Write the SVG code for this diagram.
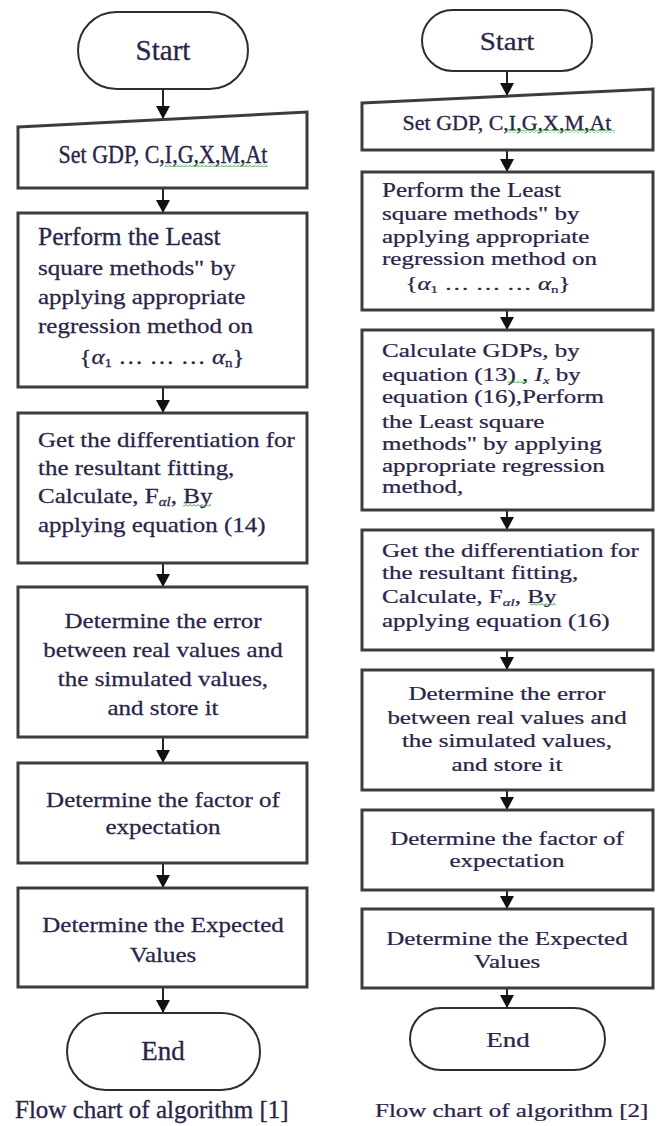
<svg xmlns="http://www.w3.org/2000/svg" width="660" height="1126" viewBox="0 0 660 1126">
<defs>
<style>
.box{fill:#fff;stroke:#3c3c3c;stroke-width:3}
.term{fill:#fff;stroke:#2e2e2e;stroke-width:2}
.t{font-family:"Liberation Serif","Times New Roman",serif;font-size:25px;fill:#2a2448;stroke:#2a2448;stroke-width:0.3}
.c{text-anchor:middle}
.big{font-size:29px}
.sub{font-size:15px}
.it{font-style:italic}
.conn line{stroke:#222;stroke-width:2;marker-end:url(#ah)}
.sq{fill:url(#sqp)}
</style>
<marker id="ah" markerUnits="userSpaceOnUse" markerWidth="13" markerHeight="14" refX="13" refY="7" orient="auto">
<path d="M0,0 L13,7 L0,14 z" fill="#111"/>
</marker>
<pattern id="sqp" patternUnits="userSpaceOnUse" width="4" height="3">
<path d="M0,2.5 L2,0.5 L4,2.5" fill="none" stroke="#2f9a2f" stroke-width="1"/>
</pattern>
</defs>
<rect width="660" height="1126" fill="#fff"/>

<g class="conn">
<line x1="163" y1="89" x2="163" y2="119"/>
<line x1="163" y1="188" x2="163" y2="213"/>
<line x1="163" y1="387" x2="163" y2="413"/>
<line x1="163" y1="563" x2="163" y2="587"/>
<line x1="163" y1="737" x2="163" y2="763"/>
<line x1="163" y1="863" x2="163" y2="888"/>
<line x1="163" y1="987" x2="163" y2="1013"/>
<line x1="507" y1="71" x2="507" y2="96"/>
<line x1="507" y1="150" x2="507" y2="172"/>
<line x1="507" y1="310" x2="507" y2="330"/>
<line x1="507" y1="510" x2="507" y2="530"/>
<line x1="507" y1="650" x2="507" y2="670"/>
<line x1="507" y1="790" x2="507" y2="810"/>
<line x1="507" y1="890" x2="507" y2="909"/>
<line x1="507" y1="988" x2="507" y2="1008"/>
</g>

<!-- Left column -->
<g id="L-start">
<rect class="term" x="78" y="12" width="170" height="77" rx="38.5"/>
<text class="t c big" x="163" y="60">Start</text>
</g>
<g id="L-input">
<polygon class="box" points="18,127 307,112 307,188 18,188"/>
<text class="t c" style="font-size:22px" transform="translate(163 163) scale(1 1.1)">Set GDP, C,I,G,X,M,At</text>
<rect class="sq" x="165" y="164" width="103" height="3"/>
</g>
<g id="L-lsq">
<rect class="box" x="18" y="213" width="289" height="174"/>
<text class="t" style="font-size:25.5px" x="38" y="245">Perform the Least</text>
<text class="t" transform="translate(38 275) scale(1 .85)">square methods" by</text>
<text class="t" transform="translate(38 304) scale(1 .85)">applying appropriate</text>
<text class="t" transform="translate(38 333) scale(1 .85)">regression method on</text>
<text class="t c" transform="translate(162 364) scale(1 .85)">{<tspan class="it">α</tspan><tspan class="sub" dy="4">1</tspan><tspan dy="-4">  … … … </tspan><tspan class="it">α</tspan><tspan class="sub" dy="4">n</tspan><tspan dy="-4">}</tspan></text>
</g>
<g id="L-diff">
<rect class="box" x="18" y="413" width="289" height="150"/>
<text class="t" transform="translate(38 447) scale(1 .85)">Get the differentiation for</text>
<text class="t" transform="translate(38 475) scale(1 .85)">the resultant fitting,</text>
<text class="t" transform="translate(38 503) scale(1 .85)">Calculate, F<tspan class="sub it" dy="4">αl</tspan><tspan dy="-4">, By</tspan></text>
<text class="t" transform="translate(38 532) scale(1 .85)">applying equation (14)</text>
<rect class="sq" x="183" y="504" width="28" height="3"/>
</g>
<g id="L-err">
<rect class="box" x="18" y="587" width="289" height="150"/>
<text class="t c" transform="translate(163 628) scale(1 .85)">Determine the error</text>
<text class="t c" transform="translate(163 657) scale(1 .85)">between real values and</text>
<text class="t c" transform="translate(163 686) scale(1 .85)">the simulated values,</text>
<text class="t c" transform="translate(163 715) scale(1 .85)">and store it</text>
</g>
<g id="L-factor">
<rect class="box" x="18" y="763" width="289" height="100"/>
<text class="t c" transform="translate(163 807) scale(1 .85)">Determine the factor of</text>
<text class="t c" transform="translate(163 834) scale(1 .85)">expectation</text>
</g>
<g id="L-expected">
<rect class="box" x="18" y="888" width="289" height="99"/>
<text class="t c" transform="translate(163 932) scale(1 .85)">Determine the Expected</text>
<text class="t c" transform="translate(163 962) scale(1 .85)">Values</text>
</g>
<g id="L-end">
<rect class="term" x="67" y="1013" width="193" height="77" rx="38.5"/>
<text class="t c" style="font-size:27px" x="163" y="1060">End</text>
</g>
<text id="L-caption" class="t" style="font-size:25px" x="15" y="1118">Flow chart of algorithm [1]</text>

<!-- Right column -->
<g id="R-start">
<rect class="term" x="422" y="10" width="170" height="61" rx="30.5"/>
<text class="t c big" transform="translate(507 50) scale(1 .87)">Start</text>
</g>
<g id="R-input">
<polygon class="box" points="362,103 653,89 653,150 362,150"/>
<text class="t c" style="font-size:22px" transform="translate(507 130) scale(1 .96)">Set GDP, C,I,G,X,M,At</text>
<rect class="sq" x="508" y="130" width="107" height="3"/>
</g>
<g id="R-lsq">
<rect class="box" x="362" y="172" width="291" height="138"/>
<text class="t" style="font-size:25px" transform="translate(382 197) scale(1 .8)">Perform the Least</text>
<text class="t" transform="translate(382 220) scale(1 .75)">square methods" by</text>
<text class="t" transform="translate(382 243) scale(1 .75)">applying appropriate</text>
<text class="t" transform="translate(382 265) scale(1 .75)">regression method on</text>
<text class="t c" transform="translate(488 290) scale(1 .75)">{<tspan class="it">α</tspan><tspan class="sub" dy="4">1</tspan><tspan dy="-4">  … … … </tspan><tspan class="it">α</tspan><tspan class="sub" dy="4">n</tspan><tspan dy="-4">}</tspan></text>
</g>
<g id="R-gdp">
<rect class="box" x="362" y="330" width="291" height="180"/>
<text class="t" transform="translate(382 357) scale(1 .75)">Calculate GDPs, by</text>
<text class="t" transform="translate(382 381) scale(1 .75)">equation (13) , <tspan class="it">I</tspan><tspan class="sub it" dy="4">x</tspan><tspan dy="-4"> by</tspan></text>
<text class="t" transform="translate(382 403) scale(1 .75)">equation (16),Perform</text>
<text class="t" transform="translate(382 428) scale(1 .75)">the Least square</text>
<text class="t" transform="translate(382 450) scale(1 .75)">methods" by applying</text>
<text class="t" transform="translate(382 472) scale(1 .75)">appropriate regression</text>
<text class="t" transform="translate(382 493) scale(1 .75)">method,</text>
<rect class="sq" x="507" y="380" width="20" height="3"/>
</g>
<g id="R-diff">
<rect class="box" x="362" y="530" width="291" height="120"/>
<text class="t" transform="translate(382 557) scale(1 .75)">Get the differentiation for</text>
<text class="t" transform="translate(382 579) scale(1 .75)">the resultant fitting,</text>
<text class="t" transform="translate(382 603) scale(1 .75)">Calculate, F<tspan class="sub it" dy="4">αl</tspan><tspan dy="-4">, By</tspan></text>
<text class="t" transform="translate(382 627) scale(1 .75)">applying equation (16)</text>
<rect class="sq" x="530" y="603" width="26" height="3"/>
</g>
<g id="R-err">
<rect class="box" x="362" y="670" width="291" height="120"/>
<text class="t c" transform="translate(507 700) scale(1 .75)">Determine the error</text>
<text class="t c" transform="translate(507 724) scale(1 .75)">between real values and</text>
<text class="t c" transform="translate(507 747) scale(1 .75)">the simulated values,</text>
<text class="t c" transform="translate(507 771) scale(1 .75)">and store it</text>
</g>
<g id="R-factor">
<rect class="box" x="362" y="810" width="291" height="80"/>
<text class="t c" transform="translate(507 845) scale(1 .75)">Determine the factor of</text>
<text class="t c" transform="translate(507 867) scale(1 .75)">expectation</text>
</g>
<g id="R-expected">
<rect class="box" x="362" y="909" width="291" height="79"/>
<text class="t c" transform="translate(507 945) scale(1 .75)">Determine the Expected</text>
<text class="t c" transform="translate(507 968) scale(1 .75)">Values</text>
</g>
<g id="R-end">
<rect class="term" x="410" y="1008" width="195" height="62" rx="31"/>
<text class="t c" style="font-size:27px" transform="translate(508 1047) scale(1 .78)">End</text>
</g>
<text id="R-caption" class="t" style="font-size:25px" transform="translate(375 1117) scale(1 .78)">Flow chart of algorithm [2]</text>
</svg>
